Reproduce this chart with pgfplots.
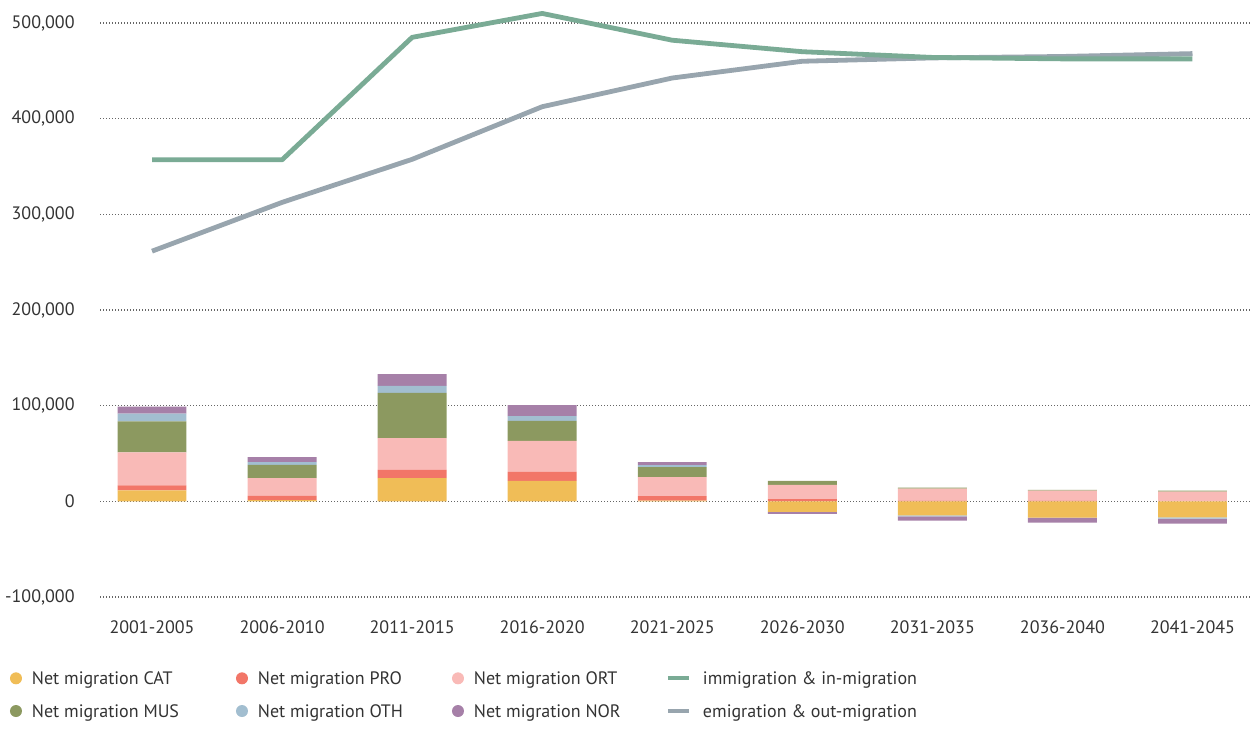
\documentclass[border=0pt]{standalone}
\usepackage{fontspec}
\setmainfont{PT Sans}
\usepackage{pgfplots}
\pgfplotsset{compat=1.18}
\definecolor{catc}{HTML}{F0BD57}
\definecolor{proc}{HTML}{F27668}
\definecolor{ortc}{HTML}{F9BAB7}
\definecolor{musc}{HTML}{8C9960}
\definecolor{othc}{HTML}{A2BED0}
\definecolor{norc}{HTML}{A680A8}
\definecolor{immc}{HTML}{7AAB95}
\definecolor{emic}{HTML}{98A5AE}
\definecolor{txt}{HTML}{333333}
\definecolor{gridc}{HTML}{666666}
\pgfplotsset{
  base/.style={at={(50pt,-298.5pt)}, anchor=south west, scale only axis,
    width=575.5pt, height=287pt, xmin=-0.4, xmax=8.45,
    ymin=-100000, ymax=500000, clip=false, scaled y ticks=false},
}
\newcommand{\circimg}[1]{\addlegendimage{legend image code/.code={\path[draw=none,fill=none] (0pt,-3pt) rectangle (11pt,3pt); \fill[#1,draw=none] (3pt,0pt) circle (3pt);}}}
\newcommand{\lineimg}[1]{\addlegendimage{legend image code/.code={\path[draw=none,fill=none] (0pt,-3pt) rectangle (17.5pt,3pt); \draw[#1, line width=2pt] (0pt,0pt) -- (10.5pt,0pt);}}}
\begin{document}
\begin{tikzpicture}
\path[use as bounding box] (0pt,0pt) rectangle (625.5pt,-364pt);
% main axis: grid, ticks, legend, positive stacks
\begin{axis}[base, ybar stacked, bar width=0.53,
  axis line style={draw=none}, major tick length=0pt,
  ymajorgrids, grid style={line width=0.6pt, color=gridc, dash pattern=on 0.6pt off 0.9pt},
  xtick={0,1,2,3,4,5,6,7,8},
  xticklabels={2001-2005,2006-2010,2011-2015,2016-2020,2021-2025,2026-2030,2031-2035,2036-2040,2041-2045},
  ytick={-100000,0,100000,200000,300000,400000,500000},
  yticklabels={-100{,}000,0,100{,}000,200{,}000,300{,}000,400{,}000,500{,}000},
  tick label style={font=\fontsize{9}{10}\selectfont, text=txt, inner sep=0pt},
  yticklabel style={anchor=east, xshift=-12.5pt},
  xticklabel style={anchor=north, yshift=-11.5pt},
  legend columns=4, legend cell align=left,
  legend style={at={(-0.0782,-0.126)}, anchor=north west, draw=none, fill=none,
    inner sep=0pt, outer sep=0pt, column sep=0pt, row sep=7.35pt,
    nodes={inner sep=0pt, text height=7.5pt, text depth=1.5pt,
      font=\fontsize{9}{10}\selectfont, text=txt}},
]
\addplot[fill=catc, draw=none, forget plot] coordinates {(0,11500) (1,1400) (2,24400) (3,21300) (4,800) (5,0) (6,0) (7,0) (8,0)};
\addplot[fill=proc, draw=none, forget plot] coordinates {(0,5200) (1,4200) (2,8400) (3,9400) (4,4700) (5,2400) (6,800) (7,800) (8,0)};
\addplot[fill=ortc, draw=none, forget plot] coordinates {(0,34500) (1,18800) (2,33400) (3,32400) (4,19800) (5,14700) (6,12400) (7,10300) (8,10100)};
\addplot[fill=musc, draw=none, forget plot] coordinates {(0,32400) (1,13600) (2,47100) (3,20900) (4,10500) (5,4200) (6,1100) (7,1000) (8,1000)};
\addplot[fill=othc, draw=none, forget plot] coordinates {(0,8200) (1,3100) (2,7300) (3,5200) (4,2100) (5,0) (6,0) (7,0) (8,0)};
\addplot[fill=norc, draw=none, forget plot] coordinates {(0,7300) (1,5200) (2,12500) (3,11500) (4,3100) (5,0) (6,0) (7,0) (8,0)};
\circimg{catc}
\addlegendentry{\makebox[102pt][l]{Net migration CAT}}
\circimg{proc}
\addlegendentry{\makebox[97pt][l]{Net migration PRO}}
\circimg{ortc}
\addlegendentry{\makebox[96pt][l]{Net migration ORT}}
\lineimg{immc}
\addlegendentry{immigration \& in-migration}
\circimg{musc}
\addlegendentry{\makebox[102pt][l]{Net migration MUS}}
\circimg{othc}
\addlegendentry{\makebox[97pt][l]{Net migration OTH}}
\circimg{norc}
\addlegendentry{\makebox[96pt][l]{Net migration NOR}}
\lineimg{emic}
\addlegendentry{emigration \& out-migration}
\end{axis}
% negative stacks
\begin{axis}[base, hide axis, ybar stacked, bar width=0.53]
\addplot[fill=catc, draw=none] coordinates {(0,0) (1,0) (2,0) (3,0) (4,0) (5,-11100) (6,-14600) (7,-17100) (8,-16700)};
\addplot[fill=othc, draw=none] coordinates {(0,0) (1,0) (2,0) (3,0) (4,0) (5,0) (6,-1000) (7,0) (8,-1400)};
\addplot[fill=norc, draw=none] coordinates {(0,0) (1,0) (2,0) (3,0) (4,0) (5,-2100) (6,-4500) (7,-5200) (8,-5200)};
\end{axis}
% lines
\begin{axis}[base, hide axis]
\addplot[emic, line width=2.4pt, mark=none, line join=round] coordinates {(0,261500) (1,312500) (2,357500) (3,412500) (4,442500) (5,460000) (6,463500) (7,465000) (8,468000)};
\addplot[immc, line width=2.4pt, mark=none, line join=round] coordinates {(0,357000) (1,357000) (2,485000) (3,510000) (4,482000) (5,470000) (6,464000) (7,462500) (8,462500)};
\end{axis}
\end{tikzpicture}
\end{document}
